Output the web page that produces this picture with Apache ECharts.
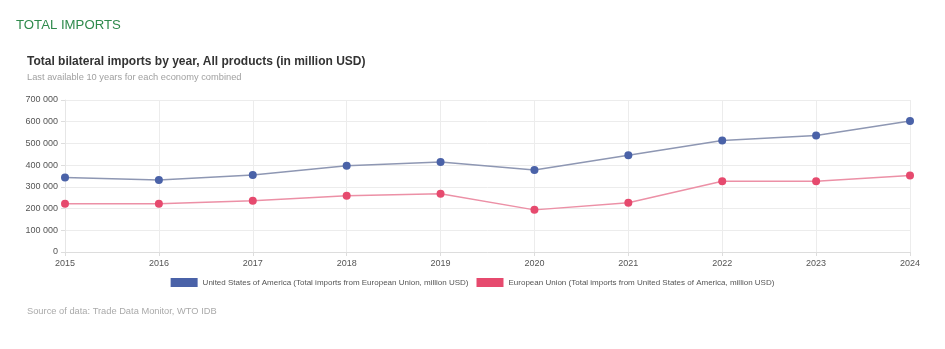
<!DOCTYPE html>
<html>
<head>
<meta charset="utf-8">
<script src="https://cdn.jsdelivr.net/npm/echarts@6/dist/echarts.min.js"></script>
<style>
html,body{margin:0;padding:0;background:#fff;}
#chart{width:945px;height:349px;}
</style>
</head>
<body>
<div id="chart"></div>
<script>
const years = ['2015','2016','2017','2018','2019','2020','2021','2022','2023','2024'];
const usImports = [343000, 332000, 355000, 397000, 415000, 378000, 446000, 513000, 536000, 603000];
const euImports = [222000, 222000, 236000, 259000, 268000, 194000, 227000, 326000, 326000, 352000];
const seriesNames = [
  'United States of America (Total imports from European Union, million USD)',
  'European Union (Total imports from United States of America, million USD)'
];

const chart = echarts.init(document.getElementById('chart'), null, {renderer:'canvas'});
const fmt = v => String(v).replace(/\B(?=(\d{3})+(?!\d))/g, ' ');
const ff = 'Liberation Sans, Arial, sans-serif';
chart.setOption({
  backgroundColor:'#fff',
  animation:false,
  textStyle:{fontFamily:ff},
  title:[
    {text:'TOTAL IMPORTS', left:16, top:19, padding:0, textStyle:{color:'#2f8a4c', fontSize:13.2, fontWeight:'normal', fontFamily:ff}},
    {text:'Total bilateral imports by year, All products (in million USD)', left:27, top:56, padding:0,
     textStyle:{color:'#333', fontSize:12, fontWeight:'bold', fontFamily:ff}},
    {text:'Last available 10 years for each economy combined', left:27, top:73, padding:0,
     textStyle:{color:'#a0a0a0', fontSize:9.3, fontWeight:'normal', fontFamily:ff}},
    {text:'Source of data: Trade Data Monitor, WTO IDB', left:27, top:307, padding:0,
     textStyle:{color:'#aaa', fontSize:9.3, fontWeight:'normal', fontFamily:ff}}
  ],
  legend:{
    top:273, left:'center', itemWidth:27, itemHeight:9, itemGap:8, icon:'rect',
    textStyle:{fontSize:8, color:'#555'},
    data:seriesNames
  },
  grid:{left:65, right:35, top:100, bottom:97, containLabel:false},
  xAxis:{
    type:'category', data:years, boundaryGap:false,
    axisLine:{lineStyle:{color:'#ddd'}},
    axisTick:{show:true, length:4, lineStyle:{color:'#ddd'}},
    axisLabel:{color:'#555', fontSize:9, margin:7},
    splitLine:{show:true, lineStyle:{color:'#ececec'}}
  },
  yAxis:{
    type:'value', min:0, max:700000, interval:100000,
    axisLine:{show:true, lineStyle:{color:'#e6e6e6'}},
    axisTick:{show:true, length:4, lineStyle:{color:'#ddd'}},
    axisLabel:{color:'#555', fontSize:9, margin:7, formatter:fmt},
    splitLine:{show:true, lineStyle:{color:'#ececec'}}
  },
  series:[
    {name:seriesNames[0], type:'line', data:usImports, symbol:'circle', symbolSize:8,
     color:'#4a62a8',
     itemStyle:{color:'#4a62a8'}, lineStyle:{color:'#8e97b3', width:1.5}},
    {name:seriesNames[1], type:'line', data:euImports, symbol:'circle', symbolSize:8,
     color:'#e9557a',
     itemStyle:{color:'#e64a6e'}, lineStyle:{color:'#ec90a6', width:1.5}}
  ]
});
</script>
</body>
</html>
